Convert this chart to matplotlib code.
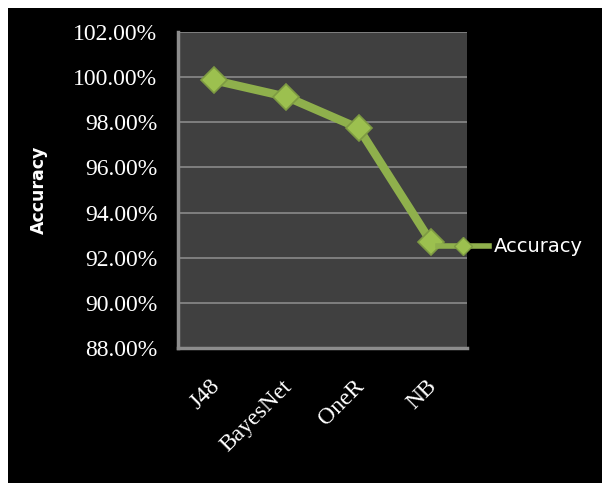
import matplotlib.pyplot as plt
import matplotlib.transforms as mtransforms
from matplotlib.patches import Rectangle
from matplotlib.lines import Line2D
from matplotlib.ticker import FuncFormatter

classifiers = ["J48", "BayesNet", "OneR", "NB"]
accuracy = [99.86, 99.13, 97.74, 92.71]
y_ticks = [88, 90, 92, 94, 96, 98, 100, 102]

LINE_GREEN = "#8fb04c"
MARKER_FACE = "#9cc04f"
MARKER_EDGE = "#7d9a42"

fig = plt.figure(figsize=(6.02, 4.83), dpi=100)
fig.patch.set_facecolor("white")
# black canvas with a thin white margin on the top and left
fig.patches.append(Rectangle((8 / 602, 0), 1, 1 - 8 / 483, transform=fig.transFigure,
                             facecolor="black", edgecolor="none", zorder=-5))

ax = fig.add_axes([178 / 602, 1 - 348 / 483, 289 / 602, 316 / 483])
ax.set_facecolor("#404040")

x = list(range(len(classifiers)))
ax.plot(x, accuracy, color=LINE_GREEN, linewidth=6, solid_capstyle="butt", zorder=3,
        marker="D", markersize=13, markerfacecolor=MARKER_FACE, markeredgecolor=MARKER_EDGE,
        markeredgewidth=1.2)

ax.set_xlim(-0.5, len(classifiers) - 0.5)
ax.set_ylim(88, 102)
ax.set_yticks(y_ticks)
ax.yaxis.set_major_formatter(FuncFormatter(lambda v, p: f"{v:.2f}%"))
ax.set_xticks(x)
ax.set_xticklabels(classifiers, rotation=45, ha="right", rotation_mode="anchor")

ax.grid(axis="y", color="#8a8a8a", linewidth=1.2, zorder=1)
ax.set_axisbelow(True)
for side in ["top", "right"]:
    ax.spines[side].set_visible(False)
for side in ["left", "bottom"]:
    ax.spines[side].set_color("#8c8c8c")
    ax.spines[side].set_linewidth(2.5)

ax.tick_params(axis="both", length=0, colors="white", labelsize=17)
ax.tick_params(axis="y", pad=15)
ax.tick_params(axis="x", pad=20)
for lab in ax.get_xticklabels() + ax.get_yticklabels():
    lab.set_fontfamily("Liberation Serif")
    lab.set_color("white")

# nudge the rotated category labels a little to the left
shift = mtransforms.ScaledTranslation(-5 / 100, 0, fig.dpi_scale_trans)
for lab in ax.get_xticklabels():
    lab.set_transform(lab.get_transform() + shift)

ax.set_ylabel("Accuracy", color="white", fontsize=12.5, fontweight="bold",
              fontfamily="DejaVu Sans", labelpad=18)

handle = Line2D([], [], color=LINE_GREEN, linewidth=4, marker="D", markersize=9,
                markerfacecolor=MARKER_FACE, markeredgecolor=MARKER_EDGE)
leg = fig.legend([handle], ["Accuracy"], loc="center left",
                 bbox_to_anchor=(438 / 602, 1 - 247 / 483), frameon=False,
                 borderpad=0, borderaxespad=0,
                 handlelength=2.6, handletextpad=0.25,
                 prop={"family": "DejaVu Sans", "size": 14})
for t in leg.get_texts():
    t.set_color("white")

fig.savefig("out.png", dpi=100, facecolor=fig.get_facecolor())
